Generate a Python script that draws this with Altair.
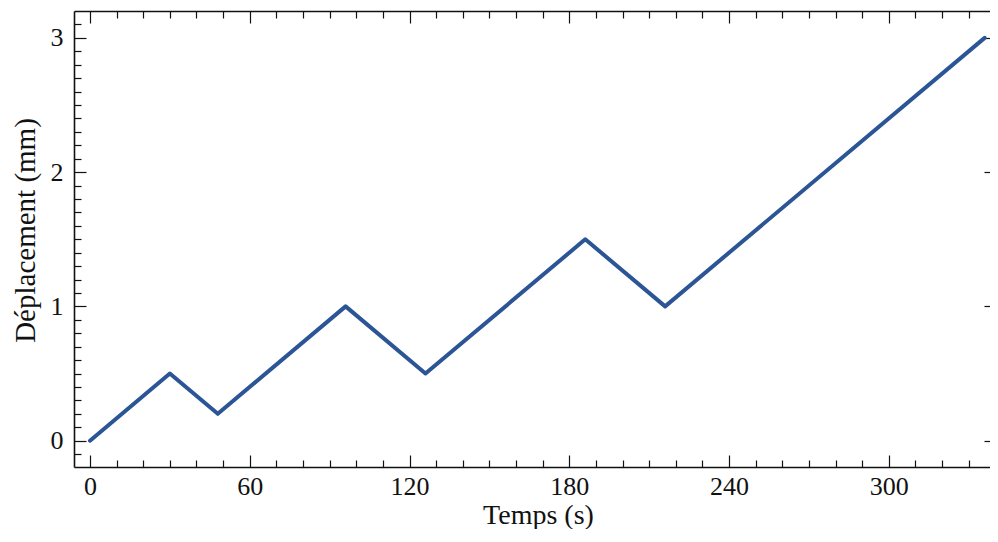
import altair as alt
import pandas as pd

temps = [0, 30, 48, 96, 126, 186, 216, 336]
deplacement = [0.0, 0.5, 0.2, 1.0, 0.5, 1.5, 1.0, 3.0]

x_major = [0, 60, 120, 180, 240, 300]
x_minor = [v for v in range(0, 341, 10) if v % 60 != 0]
y_major = [0, 1, 2, 3]
y_minor = [round(-0.1 + 0.1 * i, 1) for i in range(33)
           if abs(round(-0.1 + 0.1 * i, 1) - round(-0.1 + 0.1 * i)) > 1e-6]

df = pd.DataFrame({"t": temps, "d": deplacement})

FONT = "Liberation Serif"
XDOM = [-6, 338]
YDOM = [-0.196, 3.2]
COLOR = "#2c5596"
INK = "#111111"


def xs(axis):
    return alt.X("t:Q", scale=alt.Scale(domain=XDOM, nice=False, zero=False), axis=axis)


def ys(axis):
    return alt.Y("d:Q", scale=alt.Scale(domain=YDOM, nice=False, zero=False), axis=axis)


def tick_axis(orient, values, size, labels=False, title=None, **kw):
    args = dict(orient=orient, values=values, tickSize=size, offset=-size,
                domain=False, grid=False, tickColor=INK, tickWidth=1.2,
                labels=labels, title=title)
    args.update(kw)
    return alt.Axis(**args)


def frame_axis(orient):
    return alt.Axis(orient=orient, domain=True, ticks=False, labels=False,
                    grid=False, title=None, domainColor=INK, domainWidth=1.6)


line = alt.Chart(df).mark_line(
    color=COLOR, strokeWidth=4, strokeJoin="round", strokeCap="round"
).encode(
    x=xs(tick_axis("bottom", x_major, 12, labels=True, title="Temps (s)",
                   labelPadding=6, format="d", titleFontSize=28,
                   titleBaseline="alphabetic", titleX=464, titleY=68)),
    y=ys(tick_axis("left", y_major, 12, labels=True, title="Déplacement (mm)",
                   labelPadding=11, format="d", titleX=-46, titleY=219)),
)


def ghost(xax, yax):
    return alt.Chart(df).mark_line(opacity=0).encode(x=xs(xax), y=ys(yax))


l2 = ghost(tick_axis("bottom", x_minor, 7), tick_axis("left", y_minor, 7))
l3 = ghost(tick_axis("top", x_major, 12), tick_axis("right", y_major, 6))
l4 = ghost(tick_axis("top", x_minor, 7), None)
l5 = ghost(frame_axis("bottom"), frame_axis("left"))
l6 = ghost(frame_axis("top"), None)

chart = alt.layer(line, l2, l3, l4, l5, l6).resolve_axis(
    x="independent", y="independent"
).properties(
    width=916, height=456,
    autosize=alt.AutoSizeParams(type="none"),
    padding={"left": 66, "top": 3, "right": 0, "bottom": 62},
).configure_view(
    stroke=None
).configure_axis(
    labelFont=FONT, titleFont=FONT, labelFontSize=26, titleFontSize=29,
    labelColor=INK, titleColor=INK, titleFontWeight="normal",
)

chart.save("out.html", embed_options={"renderer": "svg", "actions": False})
